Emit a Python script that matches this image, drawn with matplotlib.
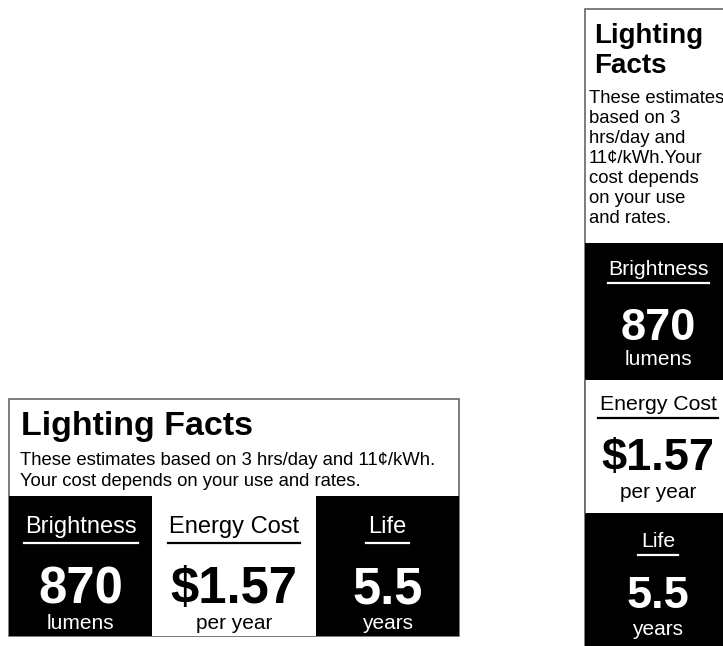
import matplotlib.pyplot as plt
from matplotlib.patches import Rectangle

plt.rcParams['font.family'] = ['Liberation Sans', 'DejaVu Sans']

title = "Lighting Facts"
note_wide = ["These estimates based on 3 hrs/day and 11\u00a2/kWh.",
             "Your cost depends on your use and rates."]
note_tall = ["These estimates", "based on 3", "hrs/day and", "11\u00a2/kWh.Your",
             "cost depends", "on your use", "and rates."]
headers = ["Brightness", "Energy Cost", "Life"]
values = ["870", "$1.57", "5.5"]
units = ["lumens", "per year", "years"]
dark = [True, False, True]

fig = plt.figure(figsize=(7.23, 6.46), dpi=100)
ax = fig.add_axes([0, 0, 1, 1])
ax.set_xlim(0, 723)
ax.set_ylim(646, 0)
ax.axis('off')

edge = '#666666'

# ---- wide label ----
L, R, T, B = 9, 459, 399, 636
ax.add_patch(Rectangle((L, T), R - L, B - T, fc='white', ec=edge, lw=1.2, zorder=0))
ax.text(21, 435, title, fontsize=24.5, fontweight='bold', va='baseline', ha='left')
for i, line in enumerate(note_wide):
    ax.text(20, 465 + 21 * i, line, fontsize=13.3, va='baseline', ha='left')

cols = [(9, 152), (152, 316), (316, 459)]
ul_w = [114, 132, 43]
for i, (x0, x1) in enumerate(cols):
    fc = 'black' if dark[i] else 'white'
    tc = 'white' if dark[i] else 'black'
    ax.add_patch(Rectangle((x0, 496), x1 - x0, B - 496, fc=fc, ec='none', zorder=1))
    cx = (x0 + x1) / 2
    ax.text(cx, 533, headers[i], fontsize=17, color=tc, ha='center', va='baseline', zorder=2)
    ax.plot([cx - ul_w[i] / 2, cx + ul_w[i] / 2], [543, 543], color=tc, lw=1.6, zorder=2)
    ax.text(cx, 603, values[i], fontsize=36.5, fontweight='bold', color=tc,
            ha='center', va='baseline', zorder=2)
    ax.text(cx, 629, units[i], fontsize=15, color=tc, ha='center', va='baseline', zorder=2)

# ---- tall label ----
L2, T2 = 585, 9
R2 = 729
ax.add_patch(Rectangle((L2, T2), R2 - L2, 700, fc='white', ec=edge, lw=1.2, zorder=0))
ax.text(594, 43, "Lighting", fontsize=20, fontweight='bold', va='baseline', ha='left')
ax.text(594, 73, "Facts", fontsize=20, fontweight='bold', va='baseline', ha='left')
for i, line in enumerate(note_tall):
    ax.text(589, 103 + 20 * i, line, fontsize=13.3, va='baseline', ha='left')

rows = [(243, 380), (380, 513), (513, 700)]
base_h = [275, 410, 547]
ul_y = [283, 418, 555]
base_v = [340, 470, 608]
base_u = [365, 498, 635]
ul_w2 = [101, 120, 40]
cx2 = 658
for i, (y0, y1) in enumerate(rows):
    fc = 'black' if dark[i] else 'white'
    tc = 'white' if dark[i] else 'black'
    ax.add_patch(Rectangle((L2, y0), R2 - L2, y1 - y0, fc=fc, ec='none', zorder=1))
    if not dark[i]:
        ax.plot([L2, L2], [y0, y1], color=edge, lw=1.2, zorder=2)
    ax.text(cx2, base_h[i], headers[i], fontsize=15.3, color=tc, ha='center', va='baseline', zorder=2)
    ax.plot([cx2 - ul_w2[i] / 2, cx2 + ul_w2[i] / 2], [ul_y[i], ul_y[i]], color=tc, lw=1.6, zorder=2)
    ax.text(cx2, base_v[i], values[i], fontsize=32.5, fontweight='bold', color=tc,
            ha='center', va='baseline', zorder=2)
    ax.text(cx2, base_u[i], units[i], fontsize=15, color=tc, ha='center', va='baseline', zorder=2)

fig.savefig('out.png', dpi=100)
